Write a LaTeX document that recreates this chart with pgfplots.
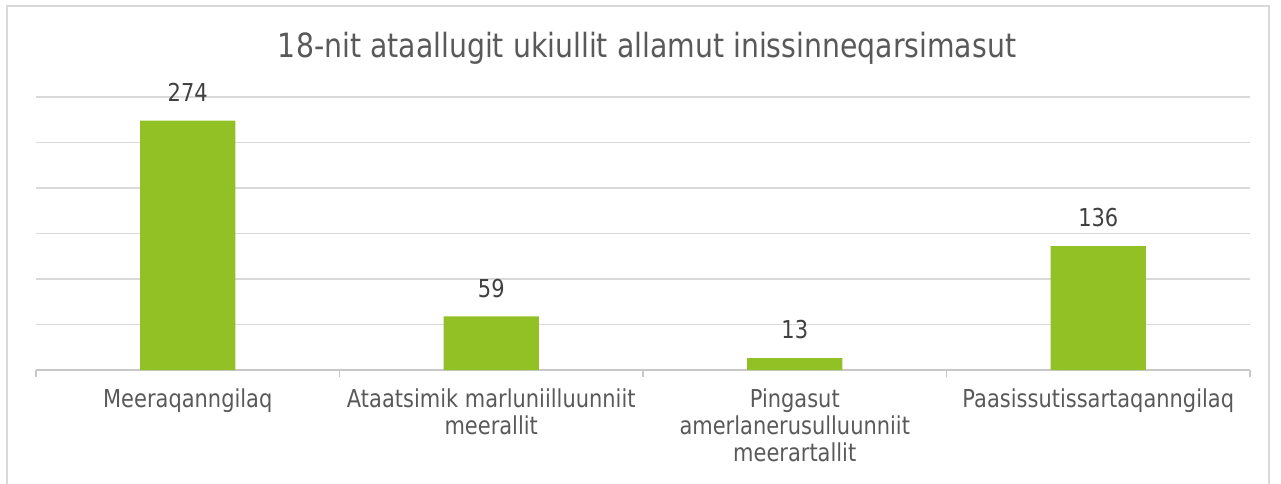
\documentclass[border=0pt]{standalone}
\usepackage{fontspec}
\setmainfont[FakeStretch=0.85]{DejaVu Sans}
\usepackage{pgfplots}
\pgfplotsset{compat=1.18}
\definecolor{bargreen}{HTML}{92C125}
\definecolor{txtgrey}{HTML}{595959}
\definecolor{lblgrey}{HTML}{404040}
\definecolor{gridgrey}{HTML}{D9D9D9}
\definecolor{axisgrey}{HTML}{C8C8C8}

\begin{document}
\begin{tikzpicture}
% 1 px of the reference = 0.75pt
\useasboundingbox (0pt,0pt) rectangle (960.75pt,362.25pt);
\draw[gridgrey, line width=1.5pt] (5.25pt,-15pt) rectangle (951.75pt,357.75pt);
\node[anchor=base, text=txtgrey, font=\fontsize{25}{30}\selectfont] at (485.25pt,318.75pt)
  {18-nit ataallugit ukiullit allamut inissinneqarsimasut};
\begin{axis}[
  at={(27pt,84.75pt)}, anchor=south west,
  scale only axis, width=910.5pt, height=204.75pt,
  xmin=-0.5, xmax=3.5, ymin=0, ymax=300,
  ybar, bar width=71.5pt,
  /pgf/number format/assume math mode=true,
  axis x line*=bottom, axis y line*=left,
  y axis line style={draw=none},
  x axis line style={draw=axisgrey, line width=1pt},
  ytick={0,50,...,300}, yticklabels={}, ytick style={draw=none},
  ymajorgrids, grid style={gridgrey, line width=1pt},
  xtick={0,1,2,3}, xtick style={draw=none}, major tick length=0pt,
  xticklabels={Meeraqanngilaq,
    {Ataatsimik marluniilluunniit\\meerallit},
    {Pingasut\\amerlanerusulluunniit\\meerartallit},
    Paasissutissartaqanngilaq},
  xticklabel style={text=txtgrey, align=center, anchor=north, yshift=-10.5pt,
    font=\fontsize{18.5}{20.25}\selectfont},
  extra x ticks={-0.5,0.5,1.5,2.5,3.5}, extra x tick labels={},
  extra x tick style={xtick style={draw=axisgrey, line width=1pt},
    major tick length=5.25pt, tick align=outside, grid=none},
  nodes near coords,
  every node near coord/.append style={text=lblgrey, anchor=south, inner sep=0pt,
    yshift=14pt, font=\fontsize{18.5}{22}\selectfont},
  clip=false,
]
\addplot[fill=bargreen, draw=none] coordinates {(0,274) (1,59) (2,13) (3,136)};
\end{axis}
\end{tikzpicture}
\end{document}
